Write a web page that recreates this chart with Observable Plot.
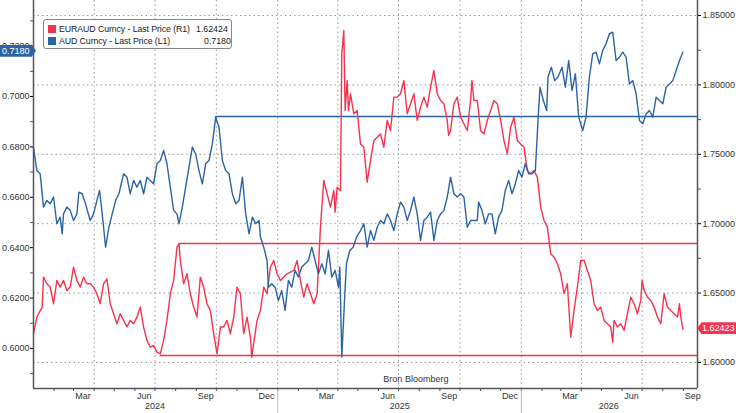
<!DOCTYPE html>
<html><head><meta charset="utf-8">
<script src="https://cdn.jsdelivr.net/npm/d3@7"></script>
<script src="https://cdn.jsdelivr.net/npm/@observablehq/plot@0.6"></script>
<style>
body{margin:0;background:#fff;font-family:"Liberation Sans",Arial,sans-serif;}
#wrap{position:relative;width:736px;height:413px;}
.legend{position:absolute;left:43px;top:19px;width:189px;height:30px;border:1px solid #888;border-radius:3px;background:#fff;font-size:8.8px;color:#222;line-height:12px;padding:3px 0 0 4px;box-sizing:border-box;}
.legend .row{display:flex;align-items:center;white-space:nowrap}
.legend .sw{width:8px;height:8px;margin-right:3px;flex:none}
.legend .nm{width:137px;flex:none;letter-spacing:-0.1px}
.tag{position:absolute;color:#fff;font-size:9px;height:12px;line-height:12px;white-space:nowrap;}
</style></head><body>
<div id="wrap"></div>
<script>
const audDates = ["2024-01-01","2024-01-06","2024-01-11","2024-01-16","2024-01-21","2024-01-26","2024-01-31","2024-02-05","2024-02-10","2024-02-13","2024-02-15","2024-02-20","2024-02-25","2024-03-01","2024-03-06","2024-03-09","2024-03-14","2024-03-19","2024-03-26","2024-03-31","2024-04-05","2024-04-09","2024-04-13","2024-04-18","2024-04-23","2024-04-28","2024-05-03","2024-05-08","2024-05-15","2024-05-20","2024-05-25","2024-05-30","2024-06-04","2024-06-09","2024-06-14","2024-06-19","2024-06-29","2024-07-04","2024-07-09","2024-07-14","2024-07-19","2024-07-24","2024-07-29","2024-08-03","2024-08-06","2024-08-11","2024-08-16","2024-08-21","2024-08-26","2024-08-31","2024-09-05","2024-09-10","2024-09-15","2024-09-20","2024-09-25","2024-09-30","2024-10-05","2024-10-10","2024-10-15","2024-10-20","2024-10-25","2024-10-30","2024-11-04","2024-11-09","2024-11-14","2024-11-19","2024-11-24","2024-11-29","2024-12-04","2024-12-06",
"2024-12-11","2024-12-16","2024-12-18","2024-12-23","2024-12-28","2025-01-02","2025-01-07","2025-01-12","2025-01-17","2025-01-22","2025-01-27","2025-02-01","2025-02-06","2025-02-11","2025-02-16","2025-02-21","2025-02-26","2025-03-03","2025-03-08","2025-03-13","2025-03-18","2025-03-23","2025-03-28","2025-04-02","2025-04-04","2025-04-07","2025-04-12","2025-04-14","2025-04-19","2025-04-24","2025-04-29","2025-05-05","2025-05-10","2025-05-15","2025-05-20","2025-05-25","2025-05-30","2025-06-04","2025-06-09","2025-06-14","2025-06-19","2025-06-24","2025-06-29","2025-07-04","2025-07-09","2025-07-14","2025-07-19","2025-07-24","2025-07-29","2025-08-03","2025-08-08","2025-08-13","2025-08-18","2025-08-23","2025-08-28","2025-09-02","2025-09-07","2025-09-12","2025-09-17","2025-09-22","2025-09-27",
"2025-10-02","2025-10-07","2025-10-12","2025-10-17","2025-10-22","2025-10-27","2025-10-29","2025-11-03","2025-11-08","2025-11-13","2025-11-18","2025-11-23","2025-11-28","2025-12-03","2025-12-08","2025-12-13","2025-12-18","2025-12-23","2025-12-28","2026-01-02","2026-01-07","2026-01-12","2026-01-17","2026-01-22","2026-01-26","2026-01-29","2026-02-03","2026-02-08","2026-02-10","2026-02-15","2026-02-20","2026-02-25","2026-03-03","2026-03-08","2026-03-13","2026-03-18","2026-03-23","2026-03-28","2026-04-03","2026-04-08","2026-04-13","2026-04-18","2026-04-23","2026-04-28","2026-05-03","2026-05-08","2026-05-13","2026-05-18","2026-05-23","2026-05-28","2026-06-02","2026-06-07","2026-06-12","2026-06-17","2026-06-22","2026-06-27","2026-07-02","2026-07-07","2026-07-12","2026-07-17","2026-07-22","2026-07-27","2026-08-01","2026-08-06","2026-08-11","2026-08-16","2026-08-21","2026-08-26","2026-08-31"];
const audValues = [0.6799,0.6706,0.6693,0.6561,0.6587,0.6574,0.6601,0.6495,0.6521,0.6455,0.6534,0.6561,0.6548,0.6508,0.6534,0.6620,0.6614,0.6574,0.6508,0.6534,0.6587,0.6627,0.6534,0.6402,0.6481,0.6534,0.6587,0.6614,0.6693,0.6680,0.6614,0.6667,0.6640,0.6667,0.6614,0.6680,0.6653,0.6733,0.6746,0.6786,0.6733,0.6640,0.6548,0.6534,0.6495,0.6561,0.6640,0.6720,0.6799,0.6772,0.6706,0.6653,0.6733,0.6746,0.6812,0.6918,0.6878,0.6746,0.6706,0.6693,0.6614,0.6574,0.6587,0.6680,0.6534,0.6455,0.6521,0.6495,0.6508,0.6442,
0.6402,0.6349,0.6243,0.6257,0.6243,0.6190,0.6230,0.6151,0.6270,0.6243,0.6310,0.6283,0.6323,0.6336,0.6349,0.6402,0.6349,0.6296,0.6336,0.6296,0.6389,0.6283,0.6310,0.6243,0.6323,0.5966,0.6243,0.6336,0.6389,0.6402,0.6442,0.6468,0.6495,0.6402,0.6468,0.6429,0.6481,0.6508,0.6495,0.6534,0.6508,0.6468,0.6534,0.6581,0.6561,0.6508,0.6548,0.6601,0.6534,0.6429,0.6508,0.6521,0.6541,0.6429,0.6508,0.6534,0.6548,0.6601,0.6680,0.6614,0.6601,
0.6614,0.6601,0.6481,0.6508,0.6508,0.6508,0.6581,0.6548,0.6495,0.6534,0.6534,0.6455,0.6521,0.6548,0.6627,0.6667,0.6614,0.6653,0.6706,0.6680,0.6733,0.6693,0.6693,0.6706,0.6905,0.7037,0.6984,0.6944,0.7077,0.7116,0.7063,0.7077,0.7116,0.7037,0.7143,0.7024,0.7090,0.6918,0.6865,0.6918,0.7077,0.7169,0.7176,0.7130,0.7183,0.7209,0.7249,0.7255,0.7143,0.7156,0.7176,0.7156,0.7050,0.7063,0.7011,0.6905,0.6892,0.6931,0.6944,0.6918,0.6997,0.6984,0.6971,0.7037,0.7050,0.7063,0.7103,0.7143,0.7176];

const eurDates = ["2024-01-01","2024-01-06","2024-01-14","2024-01-16","2024-01-21","2024-01-26","2024-01-31","2024-02-05","2024-02-10","2024-02-15","2024-02-20","2024-02-25","2024-03-01","2024-03-06","2024-03-11","2024-03-16","2024-03-21","2024-03-26","2024-03-31","2024-04-05","2024-04-10","2024-04-15","2024-04-20","2024-04-25","2024-04-30","2024-05-05","2024-05-10","2024-05-15","2024-05-20","2024-05-25","2024-05-30","2024-06-04","2024-06-09","2024-06-14","2024-06-19","2024-06-24","2024-06-29","2024-07-04","2024-07-09","2024-07-14","2024-07-19","2024-07-24","2024-07-29","2024-08-03","2024-08-06","2024-08-08","2024-08-13","2024-08-18","2024-08-23","2024-08-28","2024-09-02","2024-09-07","2024-09-12","2024-09-17","2024-09-22","2024-09-27","2024-10-02","2024-10-07","2024-10-12","2024-10-17","2024-10-22","2024-10-27","2024-11-01","2024-11-06","2024-11-11","2024-11-16","2024-11-21","2024-11-23","2024-12-01","2024-12-06",
"2024-12-11","2024-12-16","2024-12-21","2024-12-26","2024-12-31","2025-01-05","2025-01-10","2025-01-15","2025-01-25","2025-01-30","2025-02-04","2025-02-09","2025-02-14","2025-02-19","2025-02-24","2025-03-01","2025-03-06","2025-03-11","2025-03-16","2025-03-21","2025-03-26","2025-03-28","2025-03-31","2025-04-05","2025-04-07","2025-04-10","2025-04-12","2025-04-15","2025-04-17","2025-04-20","2025-04-25","2025-04-30","2025-05-05","2025-05-10","2025-05-15","2025-05-20","2025-05-25","2025-05-30","2025-06-04","2025-06-09","2025-06-14","2025-06-19","2025-06-24","2025-06-29","2025-07-04","2025-07-09","2025-07-14","2025-07-19","2025-07-24","2025-07-29","2025-08-03","2025-08-08","2025-08-13","2025-08-18","2025-08-23","2025-08-28","2025-09-02","2025-09-07","2025-09-12","2025-09-14","2025-09-17","2025-09-22","2025-09-27",
"2025-10-02","2025-10-07","2025-10-12","2025-10-17","2025-10-19","2025-10-22","2025-10-27","2025-11-01","2025-11-06","2025-11-11","2025-11-16","2025-11-21","2025-11-26","2025-12-01","2025-12-06","2025-12-11","2025-12-16","2025-12-21","2025-12-26","2025-12-31","2026-01-05","2026-01-10","2026-01-15","2026-01-20","2026-01-25","2026-01-30","2026-02-04","2026-02-09","2026-02-14","2026-02-19","2026-02-24","2026-03-01","2026-03-06","2026-03-11","2026-03-16","2026-03-21","2026-03-26","2026-03-31","2026-04-05","2026-04-10","2026-04-15","2026-04-20","2026-04-25","2026-04-30","2026-05-05","2026-05-10","2026-05-15","2026-05-18","2026-05-20","2026-05-25","2026-05-30","2026-06-04","2026-06-09","2026-06-14","2026-06-19","2026-06-24","2026-06-29","2026-07-01","2026-07-04","2026-07-09","2026-07-14","2026-07-19","2026-07-24","2026-07-29","2026-08-03","2026-08-08","2026-08-13","2026-08-18","2026-08-23","2026-08-26","2026-08-28","2026-08-31"];
const eurValues = [1.6207,1.6327,1.6399,1.6615,1.6567,1.6543,1.6423,1.6591,1.6543,1.6591,1.6519,1.6543,1.6687,1.6591,1.6543,1.6615,1.6567,1.6567,1.6543,1.6495,1.6423,1.6567,1.6603,1.6423,1.6351,1.6279,1.6351,1.6303,1.6255,1.6303,1.6279,1.6327,1.6399,1.6255,1.6159,1.6110,1.6122,1.6074,1.6062,1.6159,1.6303,1.6495,1.6591,1.6831,1.6855,1.6735,1.6567,1.6639,1.6495,1.6399,1.6327,1.6615,1.6543,1.6423,1.6375,1.6207,1.6062,1.6255,1.6255,1.6303,1.6207,1.6327,1.6543,1.6495,1.6207,1.6327,1.6183,1.6038,1.6303,1.6375,
1.6543,1.6495,1.6687,1.6735,1.6639,1.6591,1.6615,1.6639,1.6663,1.6735,1.6591,1.6471,1.6567,1.6495,1.6423,1.6495,1.6975,1.7311,1.7215,1.7119,1.7239,1.7083,1.7263,1.7239,1.8224,1.8392,1.7816,1.8032,1.7816,1.7936,1.7792,1.7816,1.7575,1.7551,1.7299,1.7455,1.7599,1.7623,1.7647,1.7551,1.7744,1.7671,1.7912,1.7912,1.7936,1.8032,1.7792,1.7864,1.7936,1.7744,1.7840,1.7912,1.7840,1.7984,1.8104,1.7936,1.7888,1.7864,1.7744,1.7635,1.7671,1.7864,1.7912,
1.7768,1.7720,1.7671,1.7888,1.8032,1.7888,1.7888,1.7671,1.7647,1.7744,1.7816,1.7888,1.7864,1.7744,1.7599,1.7503,1.7695,1.7768,1.7599,1.7575,1.7551,1.7383,1.7359,1.7383,1.7335,1.7119,1.7023,1.6975,1.6783,1.6759,1.6711,1.6639,1.6495,1.6567,1.6183,1.6375,1.6543,1.6735,1.6735,1.6663,1.6591,1.6423,1.6375,1.6399,1.6303,1.6279,1.6255,1.6146,1.6303,1.6255,1.6279,1.6231,1.6351,1.6471,1.6423,1.6351,1.6447,1.6591,1.6519,1.6471,1.6447,1.6399,1.6327,1.6279,1.6495,1.6399,1.6375,1.6351,1.6327,1.6423,1.6327,1.6242];

const leftTicks = [0.60,0.62,0.64,0.66,0.68,0.70,0.72];
const rightTicks = [1.60,1.65,1.70,1.75,1.80,1.85];
const monthLabels = ["Mar","Jun","Sep","Dec","Mar","Jun","Sep","Dec","Mar","Jun","Sep"];
const monthLabelDates = ["2024-03-15","2024-06-15","2024-09-15","2024-12-15","2025-03-15","2025-06-15","2025-09-15","2025-12-15","2026-03-15","2026-06-15","2026-09-15"];
const yearLabels = ["2024","2025","2026"];
const yearLabelDates = ["2024-07-01","2025-07-03","2026-05-12"];
const audLevel = {value:0.6921, from:"2024-09-30"};
const eurLevels = [{value:1.6857, from:"2024-08-06"},{value:1.6050, from:"2024-07-09"}];
const lastAud = "0.7180", lastEur = "1.62423";
const legendEur = "1.62424";

const P = d3.utcParse("%Y-%m-%d");
const RED = "#f5334f", BLUE = "#2b64a3";
const toL = r => 0.59444 + (r - 1.6) * 0.5508;
const fromL = l => 1.6 + (l - 0.59444) / 0.5508;
const xStart = P("2024-01-01"), xEnd = P("2026-09-22");

const aud = audDates.map((d,i)=>({date:P(d), v:audValues[i]}));
const eur = eurDates.map((d,i)=>({date:P(d), v:toL(eurValues[i])}));
const months = d3.utcMonth.range(P("2024-02-01"), xEnd);
const quarters = d3.utcMonth.every(3).range(P("2024-04-01"), xEnd);
const minorL = d3.range(0.59,0.735,0.01).filter(v=>!leftTicks.some(t=>Math.abs(t-v)<1e-6));
const minorR = [1.625,1.675,1.725,1.775,1.825].map(toL);

const chart = Plot.plot({
  width:736, height:413, marginLeft:33, marginRight:39, marginTop:0, marginBottom:25,
  style:{fontFamily:"Liberation Sans, Arial, sans-serif", fontSize:"9px", color:"#333", background:"#fff"},
  x:{type:"utc", domain:[xStart,xEnd], axis:null},
  y:{domain:[0.5841,0.7381], axis:null},
  marks:[
    Plot.gridY(rightTicks.map(toL), {stroke:"#999", strokeOpacity:1, strokeDasharray:"1.5,3"}),
    Plot.gridX(quarters, {stroke:"#999", strokeOpacity:1, strokeDasharray:"1.5,3"}),
    Plot.axisY(leftTicks, {anchor:"left", tickSize:3, tickFormat:d=>d.toFixed(4), fill:"#333", stroke:"#000", tickPadding:1}),
    Plot.axisY(minorL, {anchor:"left", tickSize:3, tickFormat:()=>"", stroke:"#555"}),
    Plot.axisY(rightTicks.map(toL), {anchor:"right", tickSize:3, tickFormat:d=>fromL(d).toFixed(5), fill:"#333", stroke:"#000", tickPadding:2}),
    Plot.axisY(minorR, {anchor:"right", tickSize:3, tickFormat:()=>"", stroke:"#555"}),
    Plot.axisX(months, {tickSize:3, tickFormat:()=>"", stroke:"#555"}),
    Plot.axisX(monthLabelDates.map(P), {tickSize:0, tickFormat:(d,i)=>monthLabels[i], fill:"#333", tickPadding:4}),
    Plot.axisX(yearLabelDates.map(P), {tickSize:0, tickFormat:(d,i)=>yearLabels[i], fill:"#333", tickPadding:14}),
    Plot.axisX([P("2025-01-01"),P("2026-01-01")], {tickSize:25, tickFormat:()=>"", stroke:"#bbb"}),
    Plot.ruleY([audLevel], {y:"value", x1:d=>P(d.from), x2:()=>xEnd, stroke:BLUE, strokeWidth:1.5}),
    Plot.ruleY(eurLevels, {y:d=>toL(d.value), x1:d=>P(d.from), x2:()=>xEnd, stroke:RED, strokeWidth:1.5}),
    Plot.line(eur, {x:"date", y:"v", stroke:RED, strokeWidth:1.4}),
    Plot.line(aud, {x:"date", y:"v", stroke:BLUE, strokeWidth:1.4}),
    Plot.text(["Bron Bloomberg"], {x:()=>P("2025-07-27"), frameAnchor:"bottom", dy:-7, fill:"#333", fontSize:9}),
    Plot.ruleX([xStart, xEnd], {stroke:"#555", strokeWidth:1.5}),
    Plot.ruleY([0.5841], {stroke:"#555", strokeWidth:1.5})
  ]
});
const wrap = document.getElementById("wrap");
wrap.appendChild(chart);
const ys = chart.scale("y");
const lg = document.createElement("div");
lg.className="legend";
lg.innerHTML = `<div class="row"><span class="sw" style="background:${RED}"></span><span class="nm">EURAUD Curncy - Last Price (R1)</span><span>${legendEur}</span></div>
<div class="row"><span class="sw" style="background:${BLUE}"></span><span class="nm">AUD Curncy - Last Price (L1)</span><span style="margin-left:8px">${lastAud}</span></div>`;
wrap.appendChild(lg);
const t1=document.createElement("div"); t1.className="tag"; t1.style.background=BLUE;
t1.style.left="0px"; t1.style.top=(ys.apply(+lastAud)-6)+"px"; t1.style.width="34px"; t1.style.paddingLeft="2px"; t1.textContent=lastAud;
t1.style.clipPath="polygon(0 0,88% 0,100% 50%,88% 100%,0 100%)";
wrap.appendChild(t1);
const t2=document.createElement("div"); t2.className="tag"; t2.style.background=RED;
t2.style.left="697px"; t2.style.top=(ys.apply(toL(+lastEur))-6)+"px"; t2.style.width="39px"; t2.style.paddingLeft="5px"; t2.style.boxSizing="border-box"; t2.textContent=lastEur;
t2.style.clipPath="polygon(0 50%,12% 0,100% 0,100% 100%,12% 100%)";
wrap.appendChild(t2);
</script></body></html>
